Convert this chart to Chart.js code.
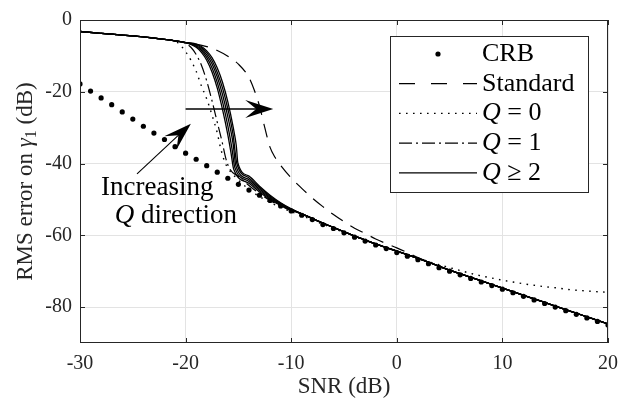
<!DOCTYPE html>
<html>
<head>
<meta charset="utf-8">
<script src="https://cdn.jsdelivr.net/npm/chart.js@4.4.1/dist/chart.umd.min.js"></script>
<style>
  body { margin: 0; background: #fff; }
  #wrap { width: 628px; height: 401px; }
</style>
</head>
<body>
<div id="wrap"><canvas id="rms-chart"></canvas></div>
<script>
const serif = "'Liberation Serif', 'Times New Roman', serif";
const ink = "#262626";

const xTicks = [-30, -20, -10, 0, 10, 20];
const yTicks = [-80, -60, -40, -20, 0];

// Cramer-Rao bound, one point per dB
const crbSnr = [-30, -29, -28, -27, -26, -25, -24, -23, -22, -21, -20, -19, -18, -17, -16, -15, -14, -13, -12, -11,
  -10, -9, -8, -7, -6, -5, -4, -3, -2, -1, 0, 1, 2, 3, 4, 5, 6, 7, 8, 9, 10, 11, 12, 13, 14, 15, 16, 17, 18, 19, 20];
const crbRms = [-17.8, -19.8, -21.7, -23.6, -25.6, -27.6, -29.6, -31.5, -33.3, -35.3, -37.1, -38.8, -40.6, -42.4, -44.1,
  -45.8, -47.4, -48.8, -50.3, -51.8, -53.2, -54.4, -55.6, -57.0, -58.1, -59.3, -60.5, -61.6, -62.7, -63.7, -64.8,
  -65.8, -66.8, -67.9, -69.0, -70.0, -71.0, -72.0, -73.0, -74.0, -75.0, -76.0, -77.0, -78.0, -79.0, -80.0, -81.0,
  -82.0, -83.0, -84.0, -85.0];

// low-SNR plateau shared by every estimator
const headSnr = [-30, -28, -26, -24, -22, -21];
const headRms = [-3.2, -3.7, -4.2, -4.7, -5.4, -5.8];

// high-SNR part where the Q >= 1 estimators sit on the bound
const tailSnr = [-9, -8, -7, -6, -5, -4, -3, -2, -1, 0, 1, 2, 3, 4, 5, 6, 7, 8, 9, 10, 11, 12, 13, 14, 15, 16, 17, 18, 19, 20];
const tailRms = [-54.0, -55.3, -56.6, -57.8, -59.0, -60.2, -61.3, -62.4, -63.4, -64.4, -65.4, -66.4, -67.5, -68.6,
  -69.7, -70.7, -71.7, -72.7, -73.7, -74.7, -75.7, -76.7, -77.7, -78.7, -79.7, -80.7, -81.7, -82.7, -83.7, -84.7];

const stdSnr = [-20, -19, -18, -17, -16, -15, -14, -13.5, -13, -12.5, -12, -11.5, -11, -10, -9, -8, -7, -6, -5, -4,
  -3, -2, -1, 0, 1, 2, 3];
const stdRms = [-6.3, -6.7, -7.4, -8.5, -10.1, -12.3, -16.0, -19.5, -24.0, -30.0, -35.5, -38.4, -40.5, -44.0, -46.9,
  -49.6, -52.0, -54.2, -56.2, -58.0, -59.5, -61.0, -62.3, -63.5, -64.8, -66.2, -67.4];
const stdTailFrom = 4;

const q0Snr = [-20.5, -20, -19.5, -19, -18.5, -18, -17.5, -17, -16.7, -16.3, -16, -15, -14, -13, -12, -11, -10, -9,
  -8, -7, -6, -5, -4, -3, -2, -1, 0, 1, 2, 3, 4, 5, 6, 7, 8, 9, 10, 11, 12, 13, 14, 15, 16, 17, 18, 19, 20];
const q0Rms = [-7.0, -8.8, -11.2, -14.3, -18.4, -22.0, -26.5, -31.5, -35.5, -39.5, -41.2, -44.6, -47.2, -49.2, -50.8,
  -52.2, -53.4, -54.5, -55.7, -56.9, -58.0, -59.2, -60.3, -61.4, -62.4, -63.4, -64.4, -65.4, -66.4, -67.3, -68.2,
  -69.0, -69.8, -70.6, -71.3, -71.9, -72.5, -73.0, -73.5, -73.9, -74.3, -74.6, -75.0, -75.3, -75.5, -75.7, -75.9];

const q1Snr = [-20, -19.5, -19, -18.5, -18, -17.5, -17, -16.5, -16.2, -15.8, -15, -14, -13, -12, -11, -10];
const q1Rms = [-6.5, -7.6, -9.6, -12.6, -17.0, -22.5, -28.5, -34.5, -38.5, -41.6, -43.6, -46.1, -48.4, -50.3, -51.8, -53.1];

// Q >= 2, one curve per Q
const qHighSnr = [
  [-20, -19.5, -19, -18.5, -18, -17.5, -17, -16.5, -16, -15.7, -15.45, -14, -13, -12, -11, -10],
  [-20, -19.5, -19, -18.5, -18, -17.5, -17, -16.5, -16, -15.6, -15.35, -14, -13, -12, -11, -10],
  [-20, -19.5, -19, -18.5, -18, -17.5, -17, -16.5, -16, -15.5, -15.25, -14, -13, -12, -11, -10],
  [-20, -19.5, -19, -18.5, -18, -17.5, -17, -16.5, -16, -15.5, -15.15, -14, -13, -12, -11, -10],
  [-20, -19.5, -19, -18.5, -18, -17.5, -17, -16.5, -16, -15.5, -15.2, -15.05, -14, -13, -12, -11, -10]
];
const qHighRms = [
  [-6.3, -6.8, -7.6, -9.0, -11.2, -14.5, -19.0, -25.0, -32.0, -37.0, -41.5, -45.5, -47.9, -50.0, -51.7, -53.0],
  [-6.3, -6.7, -7.3, -8.5, -10.4, -13.3, -17.4, -22.8, -29.5, -36.0, -41.0, -45.0, -47.5, -49.7, -51.5, -52.9],
  [-6.3, -6.6, -7.1, -8.1, -9.7, -12.2, -15.9, -20.8, -27.0, -34.5, -40.5, -44.5, -47.1, -49.4, -51.3, -52.8],
  [-6.3, -6.5, -6.9, -7.7, -9.1, -11.3, -14.6, -19.0, -24.8, -32.0, -40.0, -44.0, -46.7, -49.1, -51.1, -52.7],
  [-6.3, -6.4, -6.7, -7.4, -8.6, -10.5, -13.4, -17.4, -22.8, -29.8, -35.0, -39.8, -43.5, -46.3, -48.8, -50.9, -52.6]
];

function pts(xs, ys) {
  return xs.map((v, i) => ({ x: v, y: ys[i] }));
}
const head = pts(headSnr, headRms);
const tail = pts(tailSnr, tailRms);

function curve(data, dash, width) {
  return {
    data: data,
    showLine: true,
    borderColor: "#000",
    borderWidth: width,
    borderDash: dash,
    pointRadius: 0,
    fill: false,
    cubicInterpolationMode: "monotone"
  };
}

const datasets = [
  {
    label: "CRB",
    data: pts(crbSnr, crbRms),
    showLine: false,
    pointRadius: 2.6,
    pointBackgroundColor: "#000",
    pointBorderWidth: 0
  },
  Object.assign({ label: "Standard" }, curve(head.concat(pts(stdSnr, stdRms), tail.filter(p => p.x >= stdTailFrom)), [14, 9], 1.2)),
  Object.assign({ label: "Q = 0" }, curve(head.concat(pts(q0Snr, q0Rms)), [1.6, 5.4], 1.4)),
  Object.assign({ label: "Q = 1" }, curve(head.concat(pts(q1Snr, q1Rms), tail), [12, 4, 2, 4], 1.2))
];
qHighSnr.forEach((xs, i) => {
  datasets.push(Object.assign({ label: "Q >= 2" }, curve(head.concat(pts(xs, qHighRms[i]), tail), [], 1.3)));
});

// axes box, inward ticks, annotations and the legend
const decorations = {
  id: "decorations",
  afterDatasetsDraw(chart) {
    const { ctx, chartArea: a, scales: { x, y } } = chart;
    ctx.save();

    ctx.strokeStyle = ink;
    ctx.lineWidth = 1;
    ctx.strokeRect(a.left + 0.5, a.top + 0.5, a.right - a.left - 1, a.bottom - a.top - 1);
    ctx.beginPath();
    xTicks.forEach(v => {
      const px = Math.round(x.getPixelForValue(v)) + 0.5;
      ctx.moveTo(px, a.bottom); ctx.lineTo(px, a.bottom - 5);
      ctx.moveTo(px, a.top); ctx.lineTo(px, a.top + 5);
    });
    yTicks.forEach(v => {
      const py = Math.round(y.getPixelForValue(v)) + 0.5;
      ctx.moveTo(a.left, py); ctx.lineTo(a.left + 5, py);
      ctx.moveTo(a.right, py); ctx.lineTo(a.right - 5, py);
    });
    ctx.stroke();

    // arrows
    function arrow(x0, y0, x1, y1, lw) {
      const ax = x.getPixelForValue(x0), ay = y.getPixelForValue(y0);
      const bx = x.getPixelForValue(x1), by = y.getPixelForValue(y1);
      const ang = Math.atan2(by - ay, bx - ax);
      const len = 28, half = 9, notch = 11;
      ctx.strokeStyle = "#000";
      ctx.lineWidth = lw;
      ctx.beginPath();
      ctx.moveTo(ax, ay);
      ctx.lineTo(bx - Math.cos(ang) * notch, by - Math.sin(ang) * notch);
      ctx.stroke();
      ctx.save();
      ctx.translate(bx, by);
      ctx.rotate(ang);
      ctx.fillStyle = "#000";
      ctx.beginPath();
      ctx.moveTo(0, 0);
      ctx.lineTo(-len, -half);
      ctx.lineTo(-len + notch, 0);
      ctx.lineTo(-len, half);
      ctx.closePath();
      ctx.fill();
      ctx.restore();
    }
    arrow(-20, -24.8, -11.7, -24.8, 1.4);
    arrow(-24.6, -42.9, -19.5, -28.9, 1.1);

    // annotation text
    ctx.fillStyle = "#000";
    ctx.textBaseline = "alphabetic";
    ctx.textAlign = "left";
    ctx.font = "27px " + serif;
    ctx.fillText("Increasing", x.getPixelForValue(-28.0), y.getPixelForValue(-48.8));
    let tx = x.getPixelForValue(-26.7);
    const ty = y.getPixelForValue(-56.6);
    ctx.font = "italic 27px " + serif;
    ctx.fillText("Q", tx, ty);
    tx += ctx.measureText("Q").width;
    ctx.font = "27px " + serif;
    ctx.fillText(" direction", tx, ty);

    // legend
    const lx = a.right - 218, lt = a.top + 16, lw = 198, lh = 156;
    ctx.fillStyle = "#fff";
    ctx.fillRect(lx, lt, lw, lh);
    ctx.strokeStyle = ink;
    ctx.lineWidth = 1;
    ctx.strokeRect(lx + 0.5, lt + 0.5, lw, lh);
    const rows = [
      { q: "", t: "CRB", dot: true },
      { q: "", t: "Standard", dash: [16, 16] },
      { q: "Q", t: " = 0", dash: [1.6, 5.4] },
      { q: "Q", t: " = 1", dash: [13, 4, 2, 4] },
      { q: "Q", t: " \u2265 2", dash: [] }
    ];
    rows.forEach((r, i) => {
      const ry = lt + 18 + i * 29.7;
      const s0 = lx + 9, s1 = lx + 87;
      if (r.dot) {
        ctx.fillStyle = "#000";
        ctx.beginPath();
        ctx.arc((s0 + s1) / 2, ry, 2.6, 0, Math.PI * 2);
        ctx.fill();
      } else {
        ctx.strokeStyle = "#000";
        ctx.lineWidth = r.dash.length === 2 && r.dash[0] < 2 ? 1.4 : 1.2;
        ctx.setLineDash(r.dash);
        ctx.beginPath();
        ctx.moveTo(s0, ry);
        ctx.lineTo(s1, ry);
        ctx.stroke();
        ctx.setLineDash([]);
      }
      ctx.fillStyle = "#000";
      ctx.textBaseline = "middle";
      let cx = lx + 92;
      if (r.q) {
        ctx.font = "italic 26px " + serif;
        ctx.fillText(r.q, cx, ry);
        cx += ctx.measureText(r.q).width;
      }
      ctx.font = "26px " + serif;
      ctx.fillText(r.t, cx, ry);
    });

    // y axis title with italic gamma and subscript
    ctx.save();
    ctx.translate(24, (a.top + a.bottom) / 2);
    ctx.rotate(-Math.PI / 2);
    ctx.fillStyle = ink;
    ctx.textBaseline = "alphabetic";
    const parts = [
      { s: "RMS error on ", f: "23px " + serif, dy: 0 },
      { s: "\u03b3", f: "italic 23px " + serif, dy: 0 },
      { s: "1", f: "16px " + serif, dy: 4 },
      { s: " (dB)", f: "23px " + serif, dy: 0 }
    ];
    let total = 0;
    parts.forEach(p => { ctx.font = p.f; total += ctx.measureText(p.s).width; });
    let px = -total / 2;
    parts.forEach(p => {
      ctx.font = p.f;
      ctx.fillText(p.s, px, 8 + p.dy);
      px += ctx.measureText(p.s).width;
    });
    ctx.restore();

    ctx.restore();
  }
};

new Chart(document.getElementById("rms-chart"), {
  type: "scatter",
  data: { datasets: datasets },
  options: {
    responsive: true,
    maintainAspectRatio: false,
    animation: false,
    layout: { padding: { top: 15, right: 20, left: 0, bottom: 0 } },
    plugins: { legend: { display: false }, tooltip: { enabled: false } },
    scales: {
      x: {
        type: "linear",
        min: -30,
        max: 20,
        afterBuildTicks: s => { s.ticks = xTicks.map(v => ({ value: v })); },
        afterFit: s => { s.height = 58; },
        grid: { color: "#e3e3e3", drawTicks: false },
        border: { display: false },
        ticks: { padding: 9, color: ink, font: { family: serif, size: 20 } },
        title: {
          display: true,
          text: "SNR (dB)",
          color: ink,
          font: { family: serif, size: 23 },
          padding: { top: 5, bottom: 0 }
        }
      },
      y: {
        type: "linear",
        min: -90,
        max: 0,
        afterBuildTicks: s => { s.ticks = yTicks.map(v => ({ value: v })); },
        afterFit: s => { s.width = 80; },
        grid: { color: "#e3e3e3", drawTicks: false },
        border: { display: false },
        ticks: { padding: 8, color: ink, font: { family: serif, size: 20 } }
      }
    }
  },
  plugins: [decorations]
});
</script>
</body>
</html>
